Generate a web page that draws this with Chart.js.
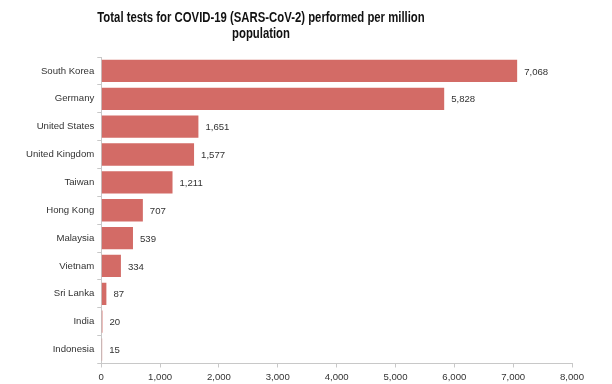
<!DOCTYPE html>
<html><head><meta charset="utf-8">
<script src="https://cdn.jsdelivr.net/npm/chart.js@4/dist/chart.umd.min.js"></script>
<style>html,body{margin:0;padding:0;background:#fff}#wrap{width:612px;height:384px}</style>
</head><body><div id="wrap"><canvas id="c"></canvas></div>
<script>
const categories = ["South Korea","Germany","United States","United Kingdom","Taiwan","Hong Kong","Malaysia","Vietnam","Sri Lanka","India","Indonesia"];
const values = [7068,5828,1651,1577,1211,707,539,334,87,20,15];
const xTicks = [0,1000,2000,3000,4000,5000,6000,7000,8000];
const titleLines = ["Total tests for COVID-19 (SARS-CoV-2) performed per million","population"];

const fmt = v => v.toLocaleString('en-US');
const labelPlugin = {
  id:'vals',
  afterDatasetsDraw(chart){
    const ctx = chart.ctx;
    const meta = chart.getDatasetMeta(0);
    ctx.save();
    ctx.font = '9.6px "Liberation Sans", Arial, sans-serif';
    ctx.fillStyle = '#333';
    ctx.textBaseline = 'middle';
    ctx.textAlign = 'left';
    meta.data.forEach((bar,i)=>{
      ctx.fillText(fmt(values[i]), bar.x + 7, bar.y + 1);
    });
    ctx.restore();
  }
};
const titlePlugin = {
  id:'narrowTitle',
  afterDraw(chart){
    const ctx = chart.ctx;
    ctx.save();
    ctx.font = 'bold 14px "Liberation Sans", Arial, sans-serif';
    ctx.fillStyle = '#111';
    ctx.textAlign = 'center';
    ctx.textBaseline = 'middle';
    const sx = 0.81, cx = 261;
    ctx.translate(cx, 0);
    ctx.scale(sx, 1);
    ctx.fillText(titleLines[0], 0, 18);
    ctx.fillText(titleLines[1], 0, 34);
    ctx.restore();
  }
};

new Chart(document.getElementById('c'), {
  type:'bar',
  data:{labels:categories, datasets:[{data:values, backgroundColor:'#d36b66', borderWidth:0, barPercentage:0.8, categoryPercentage:1.0}]},
  options:{
    indexAxis:'y', responsive:true, maintainAspectRatio:false, animation:false,
    layout:{padding:{left:23,right:40,top:57,bottom:-3}},
    plugins:{legend:{display:false}, tooltip:{enabled:false}, title:{display:false}},
    scales:{
      x:{min:0,max:8000, afterBuildTicks(s){s.ticks = xTicks.map(v=>({value:v}));},
        grid:{drawOnChartArea:false, drawTicks:true, tickLength:4, color:'#c8c8c8'},
        border:{color:'#c8c8c8'},
        ticks:{color:'#333', font:{family:'"Liberation Sans", Arial', size:9.6}, padding:4, callback:v=>fmt(v), maxRotation:0}},
      y:{grid:{drawOnChartArea:false, drawTicks:true, tickLength:4, color:'#c8c8c8', offset:true},
        border:{color:'#c8c8c8'},
        ticks:{color:'#333', font:{family:'"Liberation Sans", Arial', size:9.6}, padding:3}}
    }
  },
  plugins:[labelPlugin, titlePlugin]
});
</script></body></html>
